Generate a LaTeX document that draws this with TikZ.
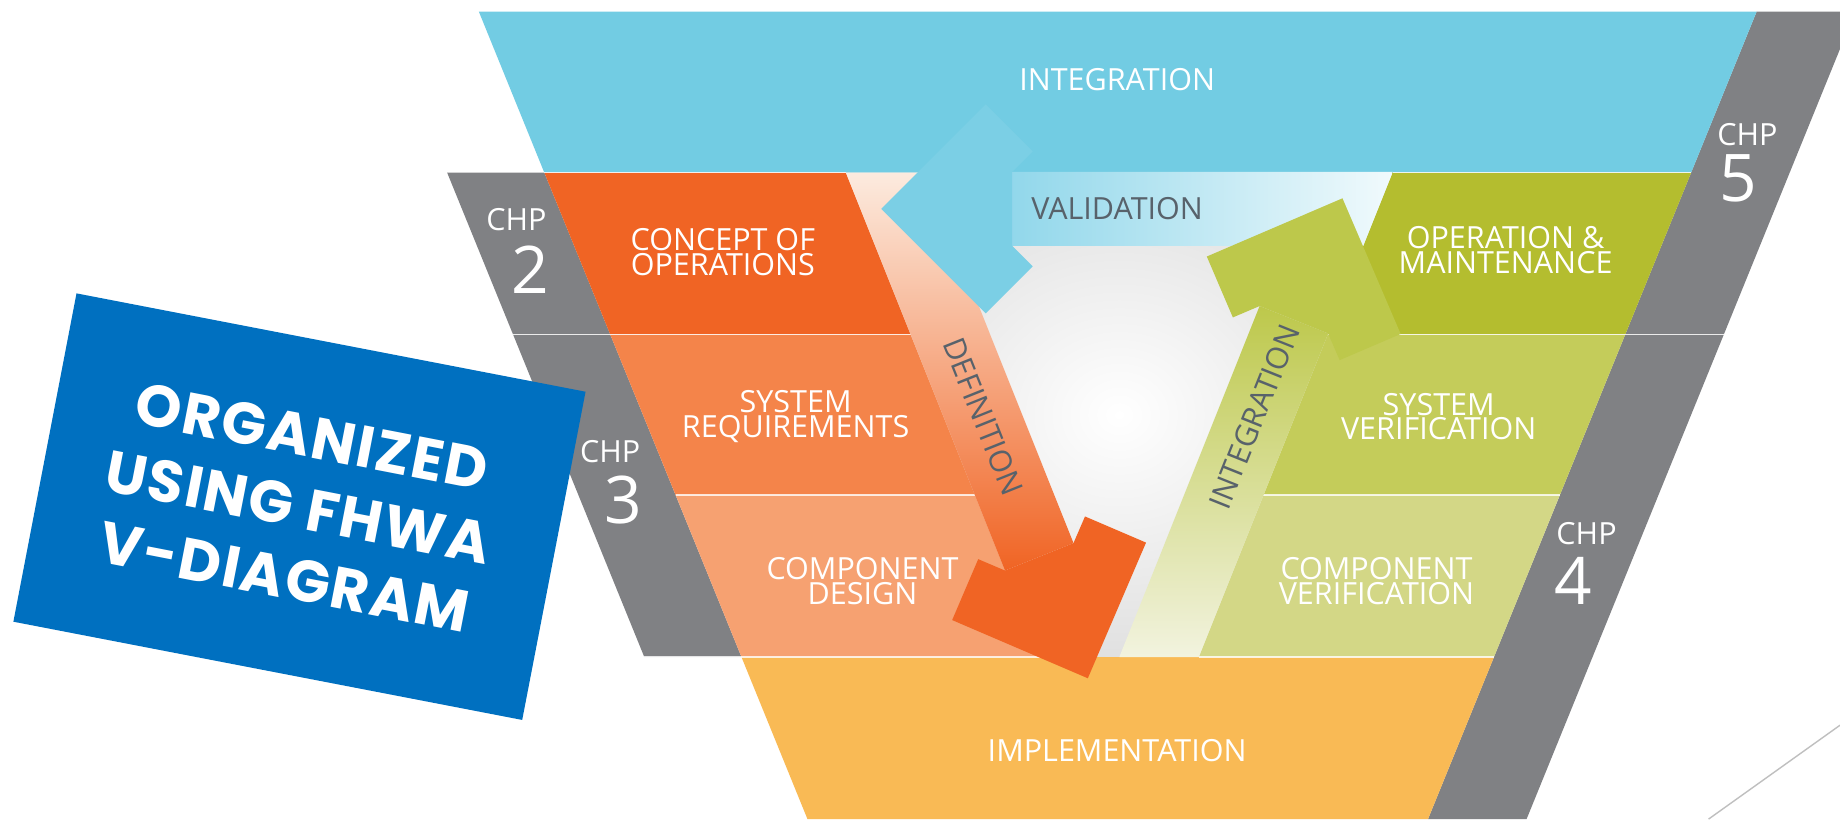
\documentclass[tikz,border=0pt]{standalone}
\usepackage{fontspec}
\setmainfont{Open Sans}
\newfontfamily\boxfont{Poppins}[LetterSpace=3]

\definecolor{vcyan}{HTML}{72CCE3}
\definecolor{vcyanhead}{HTML}{7BCFE5}
\definecolor{vcyanshaft}{HTML}{8ED6EA}
\definecolor{vorange}{HTML}{F06424}
\definecolor{vorangemid}{HTML}{F4844A}
\definecolor{vorangelight}{HTML}{F6A171}
\definecolor{vpeach}{HTML}{FCEBDF}
\definecolor{vyellow}{HTML}{F9BA55}
\definecolor{vgreendark}{HTML}{B4BD2F}
\definecolor{vgreenmid}{HTML}{C4CC5A}
\definecolor{vgreenlight}{HTML}{D3D786}
\definecolor{vgreenhead}{HTML}{BDC84B}
\definecolor{vgreenpale}{HTML}{F2F3DF}
\definecolor{vgray}{HTML}{808184}
\definecolor{vblue}{HTML}{0070C0}
\definecolor{vtext}{HTML}{58626B}

\begin{document}
\begin{tikzpicture}[x=1pt,y=-1pt,
    lbl/.style={text=white,font=\fontsize{26}{21}\selectfont,align=center,inner sep=0pt},
    arrowlbl/.style={text=vtext,font=\fontsize{26}{21}\selectfont,inner sep=0pt},
    chplbl/.style={text=white,font=\fontsize{26}{26}\selectfont,inner sep=0pt},
    chpnum/.style={text=white,font=\fontsize{56}{56}\selectfont,inner sep=0pt},
    boxtxt/.style={text=white,font=\boxfont\bfseries\fontsize{50}{61}\selectfont,align=center,inner sep=0pt},
    rowline/.style={white,line width=1.5pt,opacity=0.8}]
        \clip (0,0) rectangle (1568,698);
        \fill[white] (0,0) rectangle (1568,698);

        % Soft shadow inside the V
        \shade[inner color=white, outer color=black!12] (720.8,147) -- (1186.7,147) -- (1021.5,560) -- (886,560) -- cycle;

        % Grey chapter bands
        \fill[vgray] (381,147) -- (463.8,147) -- (520,285) -- (437.2,285) -- cycle;
        \fill[vgray] (437.2,285) -- (520,285) -- (631.9,560) -- (549.1,560) -- cycle;
        \fill[vgray] (1496.9,10) -- (1580.9,10) -- (1469,285) -- (1385,285) -- cycle;
        \fill[vgray] (1385,285) -- (1469,285) -- (1300.9,698) -- (1216.9,698) -- cycle;

        % Rows of the V
        \fill[vcyan] (408.1,10) -- (1496.9,10) -- (1441.2,147) -- (463.8,147) -- cycle;
        \fill[vorange] (463.8,147) -- (720.8,147) -- (776,285) -- (520,285) -- cycle;
        \fill[vorangemid] (520,285) -- (776,285) -- (830.8,422) -- (575.8,422) -- cycle;
        \fill[vorangelight] (575.8,422) -- (830.8,422) -- (886,560) -- (631.9,560) -- cycle;
        \fill[vgreendark] (1186.7,147) -- (1441.2,147) -- (1385,285) -- (1131.5,285) -- cycle;
        \fill[vgreenmid] (1131.5,285) -- (1385,285) -- (1329.2,422) -- (1076.7,422) -- cycle;
        \fill[vgreenlight] (1076.7,422) -- (1329.2,422) -- (1273.1,560) -- (1021.5,560) -- cycle;
        \fill[vyellow] (631.9,560) -- (1273.1,560) -- (1216.9,698) -- (688.1,698) -- cycle;

        \draw[rowline] (463.8,147) -- (720.8,147);
        \draw[rowline] (437.2,285) -- (776,285);
        \draw[rowline] (575.8,422) -- (830.8,422);
        \draw[rowline] (549.1,560) -- (886,560);
        \draw[rowline] (1186.7,147) -- (1441.2,147);
        \draw[rowline] (1131.5,285) -- (1469,285);
        \draw[rowline] (1076.7,422) -- (1329.2,422);
        \draw[rowline] (1021.5,560) -- (1273.1,560);

        % Definition arrow
        \shade[top color=vpeach, middle color=vorangelight, bottom color=vorange] (720.8,147) -- (788.6,147) -- (914.8,462.8) -- (856.4,486.2) -- cycle;
        \fill[vorange] (927,578) -- (811.4,528.4) -- (833.6,476.5) -- (856.4,486.2) -- (914.8,462.8) -- (924.6,440.1) -- (976.6,462.4) -- cycle;

        % Validation arrow
        \shade[left color=vcyanshaft, right color=vcyan!10] (850,146.5) -- (1186.9,146.5) -- (1161.7,209.5) -- (850,209.5) -- cycle;
        \fill[vcyanhead] (751,178) -- (840,89) -- (880,129) -- (862.5,146.5) -- (862.5,209.5) -- (880,227) -- (840,267) -- cycle;

        % Integration arrow
        \shade[top color=vgreenhead, middle color=vgreenlight, bottom color=vgreenpale] (953.8,560) -- (1021.5,560) -- (1131.8,284.2) -- (1073.4,260.8) -- cycle;
        \fill[vgreenhead] (1144,169) -- (1028.4,218.6) -- (1050.6,270.5) -- (1073.4,260.8) -- (1131.8,284.2) -- (1141.6,306.9) -- (1193.6,284.6) -- cycle;

        % Labels
        \node[lbl] (integtop) at (952,68) {INTEGRATION};
        \node[lbl] (concept) at (616,215) {CONCEPT OF\\OPERATIONS};
        \node[lbl] (sysreq) at (678,355) {SYSTEM\\REQUIREMENTS};
        \node[lbl] (compdesign) at (735,495) {COMPONENT\\DESIGN};
        \node[lbl] (opmaint) at (1283,213) {OPERATION \&\\MAINTENANCE};
        \node[lbl] (sysver) at (1226,355) {SYSTEM\\VERIFICATION};
        \node[lbl] (compver) at (1173,495) {COMPONENT\\VERIFICATION};
        \node[lbl] (implem) at (952,640) {IMPLEMENTATION};
        \node[arrowlbl] (valid) at (952,178) {VALIDATION};
        \node[arrowlbl, rotate=-68.2] (defin) at (838,355) {DEFINITION};
        \node[arrowlbl, rotate=68.2] (integr) at (1069,355) {INTEGRATION};

        \node[chplbl] (chptwo) at (440,187) {CHP};
        \node[chpnum] (numtwo) at (452,229.5) {2};
        \node[chplbl] (chpthree) at (520,385) {CHP};
        \node[chpnum] (numthree) at (531,426) {3};
        \node[chplbl] (chpfive) at (1489,115) {CHP};
        \node[chpnum] (numfive) at (1481,152) {5};
        \node[chplbl] (chpfour) at (1352,454.5) {CHP};
        \node[chpnum] (numfour) at (1341,495) {4};

        % Blue title card
        \fill[vblue] (65.2,250) -- (499,333.8) -- (445,613.5) -- (11.4,529.8) -- cycle;
        \node[boxtxt, rotate=-11] (organized) at (254,432) {ORGANIZED\\USING FHWA\\V-DIAGRAM};

        \draw[black!25, line width=1.2pt] (1568,618) -- (1456,698);
\end{tikzpicture}
\end{document}
